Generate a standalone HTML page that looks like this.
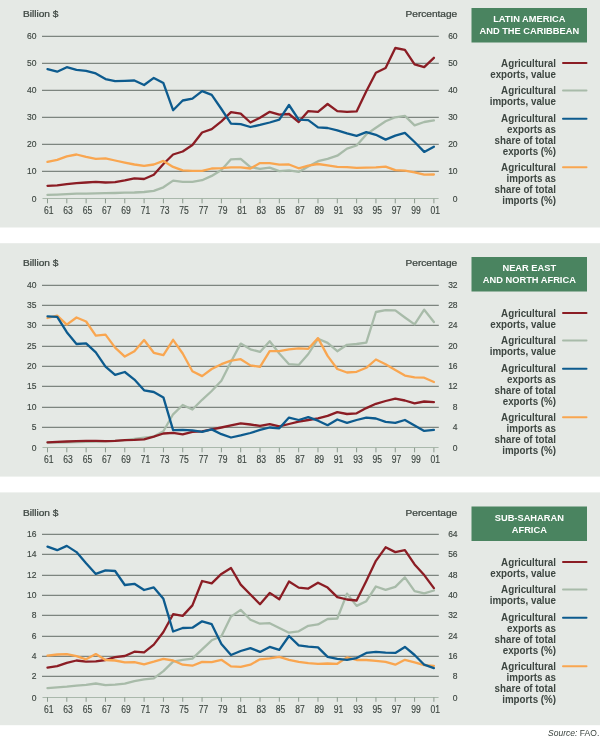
<!DOCTYPE html>
<html><head><meta charset="utf-8"><title>Agricultural trade by region</title>
<style>
html,body{margin:0;padding:0;background:#fff;}
body{width:600px;height:738px;overflow:hidden;}
svg{display:block;}
text{font-family:"Liberation Sans","DejaVu Sans",sans-serif;}
.ax{font-size:9.8px;fill:#3d4641;stroke:#3d4641;stroke-width:0.15px;}
.xl{font-size:10.1px;fill:#3d4641;stroke:#3d4641;stroke-width:0.15px;}
.lab{font-size:9.2px;fill:#3d4641;stroke:#3d4641;stroke-width:0.25px;}
.leg{font-size:10.2px;font-weight:bold;fill:#3d4641;}
.ttl{font-size:9.9px;font-weight:bold;fill:#fff;}
.src{font-size:9px;font-style:italic;fill:#3d4641;}
</style></head><body>
<svg width="600" height="738" viewBox="0 0 600 738">
<rect x="0" y="0" width="600" height="738" fill="#ffffff"/>

<rect x="0" y="0.0" width="600" height="227.5" fill="#e5e9e5"/>
<text class="lab" transform="translate(23.0,17.1) scale(1.100,1)">Billion $</text>
<text class="lab" transform="translate(457.2,17.1) scale(1.100,1)" text-anchor="end">Percentage</text>
<line x1="42" x2="438.8" y1="36.38" y2="36.38" stroke="#7d857f" stroke-width="1.25"/>
<text class="ax" transform="translate(36.4,38.7) scale(0.870,1)" text-anchor="end">60</text>
<text class="ax" transform="translate(457.6,38.7) scale(0.870,1)" text-anchor="end">60</text>
<line x1="42" x2="438.8" y1="63.38" y2="63.38" stroke="#7d857f" stroke-width="1.25"/>
<text class="ax" transform="translate(36.4,65.7) scale(0.870,1)" text-anchor="end">50</text>
<text class="ax" transform="translate(457.6,65.7) scale(0.870,1)" text-anchor="end">50</text>
<line x1="42" x2="438.8" y1="90.38" y2="90.38" stroke="#7d857f" stroke-width="1.25"/>
<text class="ax" transform="translate(36.4,92.7) scale(0.870,1)" text-anchor="end">40</text>
<text class="ax" transform="translate(457.6,92.7) scale(0.870,1)" text-anchor="end">40</text>
<line x1="42" x2="438.8" y1="117.38" y2="117.38" stroke="#7d857f" stroke-width="1.25"/>
<text class="ax" transform="translate(36.4,119.7) scale(0.870,1)" text-anchor="end">30</text>
<text class="ax" transform="translate(457.6,119.7) scale(0.870,1)" text-anchor="end">30</text>
<line x1="42" x2="438.8" y1="144.38" y2="144.38" stroke="#7d857f" stroke-width="1.25"/>
<text class="ax" transform="translate(36.4,146.7) scale(0.870,1)" text-anchor="end">20</text>
<text class="ax" transform="translate(457.6,146.7) scale(0.870,1)" text-anchor="end">20</text>
<line x1="42" x2="438.8" y1="171.38" y2="171.38" stroke="#7d857f" stroke-width="1.25"/>
<text class="ax" transform="translate(36.4,173.7) scale(0.870,1)" text-anchor="end">10</text>
<text class="ax" transform="translate(457.6,173.7) scale(0.870,1)" text-anchor="end">10</text>
<line x1="42.5" x2="438.6" y1="198.50" y2="198.50" stroke="#a9b8ab" stroke-width="1.2"/>
<text class="ax" transform="translate(36.4,202.3) scale(0.870,1)" text-anchor="end">0</text>
<text class="ax" transform="translate(457.6,202.3) scale(0.870,1)" text-anchor="end">0</text>
<line x1="47.50" x2="47.50" y1="198.80" y2="203.30" stroke="#8a998d" stroke-width="1"/>
<text class="xl" transform="translate(48.8,214.4) scale(0.850,1)" text-anchor="middle">61</text>
<line x1="66.82" x2="66.82" y1="198.80" y2="203.30" stroke="#8a998d" stroke-width="1"/>
<text class="xl" transform="translate(68.1,214.4) scale(0.850,1)" text-anchor="middle">63</text>
<line x1="86.14" x2="86.14" y1="198.80" y2="203.30" stroke="#8a998d" stroke-width="1"/>
<text class="xl" transform="translate(87.4,214.4) scale(0.850,1)" text-anchor="middle">65</text>
<line x1="105.46" x2="105.46" y1="198.80" y2="203.30" stroke="#8a998d" stroke-width="1"/>
<text class="xl" transform="translate(106.8,214.4) scale(0.850,1)" text-anchor="middle">67</text>
<line x1="124.78" x2="124.78" y1="198.80" y2="203.30" stroke="#8a998d" stroke-width="1"/>
<text class="xl" transform="translate(126.1,214.4) scale(0.850,1)" text-anchor="middle">69</text>
<line x1="144.10" x2="144.10" y1="198.80" y2="203.30" stroke="#8a998d" stroke-width="1"/>
<text class="xl" transform="translate(145.4,214.4) scale(0.850,1)" text-anchor="middle">71</text>
<line x1="163.42" x2="163.42" y1="198.80" y2="203.30" stroke="#8a998d" stroke-width="1"/>
<text class="xl" transform="translate(164.7,214.4) scale(0.850,1)" text-anchor="middle">73</text>
<line x1="182.74" x2="182.74" y1="198.80" y2="203.30" stroke="#8a998d" stroke-width="1"/>
<text class="xl" transform="translate(184.0,214.4) scale(0.850,1)" text-anchor="middle">75</text>
<line x1="202.06" x2="202.06" y1="198.80" y2="203.30" stroke="#8a998d" stroke-width="1"/>
<text class="xl" transform="translate(203.4,214.4) scale(0.850,1)" text-anchor="middle">77</text>
<line x1="221.38" x2="221.38" y1="198.80" y2="203.30" stroke="#8a998d" stroke-width="1"/>
<text class="xl" transform="translate(222.7,214.4) scale(0.850,1)" text-anchor="middle">79</text>
<line x1="240.70" x2="240.70" y1="198.80" y2="203.30" stroke="#8a998d" stroke-width="1"/>
<text class="xl" transform="translate(242.0,214.4) scale(0.850,1)" text-anchor="middle">81</text>
<line x1="260.02" x2="260.02" y1="198.80" y2="203.30" stroke="#8a998d" stroke-width="1"/>
<text class="xl" transform="translate(261.3,214.4) scale(0.850,1)" text-anchor="middle">83</text>
<line x1="279.34" x2="279.34" y1="198.80" y2="203.30" stroke="#8a998d" stroke-width="1"/>
<text class="xl" transform="translate(280.6,214.4) scale(0.850,1)" text-anchor="middle">85</text>
<line x1="298.66" x2="298.66" y1="198.80" y2="203.30" stroke="#8a998d" stroke-width="1"/>
<text class="xl" transform="translate(300.0,214.4) scale(0.850,1)" text-anchor="middle">87</text>
<line x1="317.98" x2="317.98" y1="198.80" y2="203.30" stroke="#8a998d" stroke-width="1"/>
<text class="xl" transform="translate(319.3,214.4) scale(0.850,1)" text-anchor="middle">89</text>
<line x1="337.30" x2="337.30" y1="198.80" y2="203.30" stroke="#8a998d" stroke-width="1"/>
<text class="xl" transform="translate(338.6,214.4) scale(0.850,1)" text-anchor="middle">91</text>
<line x1="356.62" x2="356.62" y1="198.80" y2="203.30" stroke="#8a998d" stroke-width="1"/>
<text class="xl" transform="translate(357.9,214.4) scale(0.850,1)" text-anchor="middle">93</text>
<line x1="375.94" x2="375.94" y1="198.80" y2="203.30" stroke="#8a998d" stroke-width="1"/>
<text class="xl" transform="translate(377.2,214.4) scale(0.850,1)" text-anchor="middle">95</text>
<line x1="395.26" x2="395.26" y1="198.80" y2="203.30" stroke="#8a998d" stroke-width="1"/>
<text class="xl" transform="translate(396.6,214.4) scale(0.850,1)" text-anchor="middle">97</text>
<line x1="414.58" x2="414.58" y1="198.80" y2="203.30" stroke="#8a998d" stroke-width="1"/>
<text class="xl" transform="translate(415.9,214.4) scale(0.850,1)" text-anchor="middle">99</text>
<line x1="433.90" x2="433.90" y1="198.80" y2="203.30" stroke="#8a998d" stroke-width="1"/>
<text class="xl" transform="translate(435.2,214.4) scale(0.850,1)" text-anchor="middle">01</text>
<polyline fill="none" stroke="#a8bba9" stroke-width="2.3" stroke-linejoin="round" stroke-linecap="round" points="47.5,194.9 57.2,194.6 66.8,194.1 76.5,193.7 86.1,193.7 95.8,193.4 105.5,193.2 115.1,193.0 124.8,192.7 134.4,192.5 144.1,192.0 153.8,190.8 163.4,187.3 173.1,180.6 182.7,181.8 192.4,181.8 202.1,180.2 211.7,175.9 221.4,170.0 231.0,159.3 240.7,158.8 250.4,167.1 260.0,168.8 269.7,167.6 279.3,171.1 289.0,170.4 298.7,171.9 308.3,166.4 318.0,161.2 327.6,158.8 337.3,155.7 347.0,148.6 356.6,145.5 366.3,134.4 375.9,127.7 385.6,121.3 395.3,117.3 404.9,115.9 414.6,125.4 424.2,122.0 433.9,120.4"/>
<polyline fill="none" stroke="#8b1d24" stroke-width="2.3" stroke-linejoin="round" stroke-linecap="round" points="47.5,185.8 57.2,185.4 66.8,184.2 76.5,183.2 86.1,182.5 95.8,181.8 105.5,182.5 115.1,182.1 124.8,180.4 134.4,178.3 144.1,179.0 153.8,174.7 163.4,164.0 173.1,154.5 182.7,151.5 192.4,145.0 202.1,132.5 211.7,129.2 221.4,121.3 231.0,112.1 240.7,113.7 250.4,122.5 260.0,117.8 269.7,111.8 279.3,114.7 289.0,114.0 298.7,122.0 308.3,111.1 318.0,111.8 327.6,104.0 337.3,111.1 347.0,111.8 356.6,111.4 366.3,91.2 375.9,72.7 385.6,68.0 395.3,48.0 404.9,49.9 414.6,64.4 424.2,67.2 433.9,57.8"/>
<polyline fill="none" stroke="#f9a650" stroke-width="2.3" stroke-linejoin="round" stroke-linecap="round" points="47.5,161.9 57.2,159.8 66.8,156.4 76.5,154.5 86.1,156.9 95.8,158.8 105.5,158.3 115.1,160.5 124.8,162.6 134.4,164.5 144.1,165.9 153.8,164.5 163.4,160.9 173.1,166.9 182.7,170.4 192.4,170.9 202.1,170.9 211.7,168.5 221.4,168.1 231.0,167.3 240.7,167.3 250.4,168.5 260.0,163.1 269.7,163.1 279.3,164.7 289.0,164.5 298.7,168.3 308.3,165.7 318.0,164.0 327.6,165.4 337.3,166.9 347.0,167.1 356.6,167.8 366.3,167.6 375.9,167.3 385.6,166.6 395.3,170.2 404.9,170.7 414.6,172.3 424.2,174.7 433.9,174.5"/>
<polyline fill="none" stroke="#0d5b8e" stroke-width="2.3" stroke-linejoin="round" stroke-linecap="round" points="47.5,69.1 57.2,71.7 66.8,67.2 76.5,69.9 86.1,70.8 95.8,73.4 105.5,79.1 115.1,81.2 124.8,80.8 134.4,80.5 144.1,85.0 153.8,77.9 163.4,83.1 173.1,110.2 182.7,100.5 192.4,98.6 202.1,91.2 211.7,94.8 221.4,109.0 231.0,123.7 240.7,124.2 250.4,127.0 260.0,124.9 269.7,122.5 279.3,119.7 289.0,105.0 298.7,119.7 308.3,120.1 318.0,127.3 327.6,128.0 337.3,130.3 347.0,133.4 356.6,135.8 366.3,132.2 375.9,134.8 385.6,139.6 395.3,135.6 404.9,132.9 414.6,142.0 424.2,151.9 433.9,146.7"/>
<rect x="471.5" y="8.0" width="115.5" height="34.5" fill="#4a8460"/>
<text class="ttl" transform="translate(529.3,22.2) scale(0.940,1)" text-anchor="middle">LATIN AMERICA</text>
<text class="ttl" transform="translate(529.3,34.4) scale(0.940,1)" text-anchor="middle">AND THE CARIBBEAN</text>
<line x1="563" x2="586.5" y1="63.0" y2="63.0" stroke="#8b1d24" stroke-width="2" stroke-linecap="round"/>
<text class="leg" transform="translate(556.0,66.6) scale(0.960,1)" text-anchor="end">Agricultural</text>
<text class="leg" transform="translate(556.0,77.6) scale(0.960,1)" text-anchor="end">exports, value</text>
<line x1="563" x2="586.5" y1="90.5" y2="90.5" stroke="#a8bba9" stroke-width="2" stroke-linecap="round"/>
<text class="leg" transform="translate(556.0,94.1) scale(0.960,1)" text-anchor="end">Agricultural</text>
<text class="leg" transform="translate(556.0,105.1) scale(0.960,1)" text-anchor="end">imports, value</text>
<line x1="563" x2="586.5" y1="118.7" y2="118.7" stroke="#0d5b8e" stroke-width="2" stroke-linecap="round"/>
<text class="leg" transform="translate(556.0,122.3) scale(0.960,1)" text-anchor="end">Agricultural</text>
<text class="leg" transform="translate(556.0,133.3) scale(0.960,1)" text-anchor="end">exports as</text>
<text class="leg" transform="translate(556.0,144.3) scale(0.960,1)" text-anchor="end">share of total</text>
<text class="leg" transform="translate(556.0,155.3) scale(0.960,1)" text-anchor="end">exports (%)</text>
<line x1="563" x2="586.5" y1="167.3" y2="167.3" stroke="#f9a650" stroke-width="2" stroke-linecap="round"/>
<text class="leg" transform="translate(556.0,170.9) scale(0.960,1)" text-anchor="end">Agricultural</text>
<text class="leg" transform="translate(556.0,181.9) scale(0.960,1)" text-anchor="end">imports as</text>
<text class="leg" transform="translate(556.0,192.9) scale(0.960,1)" text-anchor="end">share of total</text>
<text class="leg" transform="translate(556.0,203.9) scale(0.960,1)" text-anchor="end">imports (%)</text>
<rect x="0" y="243.2" width="600" height="233.4" fill="#e5e9e5"/>
<text class="lab" transform="translate(23.0,266.1) scale(1.100,1)">Billion $</text>
<text class="lab" transform="translate(457.2,266.1) scale(1.100,1)" text-anchor="end">Percentage</text>
<line x1="42" x2="438.8" y1="285.38" y2="285.38" stroke="#7d857f" stroke-width="1.25"/>
<text class="ax" transform="translate(36.4,287.7) scale(0.870,1)" text-anchor="end">40</text>
<text class="ax" transform="translate(457.6,287.7) scale(0.870,1)" text-anchor="end">32</text>
<line x1="42" x2="438.8" y1="305.38" y2="305.38" stroke="#7d857f" stroke-width="1.25"/>
<text class="ax" transform="translate(36.4,307.7) scale(0.870,1)" text-anchor="end">35</text>
<text class="ax" transform="translate(457.6,307.7) scale(0.870,1)" text-anchor="end">28</text>
<line x1="42" x2="438.8" y1="325.38" y2="325.38" stroke="#7d857f" stroke-width="1.25"/>
<text class="ax" transform="translate(36.4,327.7) scale(0.870,1)" text-anchor="end">30</text>
<text class="ax" transform="translate(457.6,327.7) scale(0.870,1)" text-anchor="end">24</text>
<line x1="42" x2="438.8" y1="346.38" y2="346.38" stroke="#7d857f" stroke-width="1.25"/>
<text class="ax" transform="translate(36.4,348.7) scale(0.870,1)" text-anchor="end">25</text>
<text class="ax" transform="translate(457.6,348.7) scale(0.870,1)" text-anchor="end">20</text>
<line x1="42" x2="438.8" y1="366.38" y2="366.38" stroke="#7d857f" stroke-width="1.25"/>
<text class="ax" transform="translate(36.4,368.7) scale(0.870,1)" text-anchor="end">20</text>
<text class="ax" transform="translate(457.6,368.7) scale(0.870,1)" text-anchor="end">16</text>
<line x1="42" x2="438.8" y1="386.38" y2="386.38" stroke="#7d857f" stroke-width="1.25"/>
<text class="ax" transform="translate(36.4,388.7) scale(0.870,1)" text-anchor="end">15</text>
<text class="ax" transform="translate(457.6,388.7) scale(0.870,1)" text-anchor="end">12</text>
<line x1="42" x2="438.8" y1="407.38" y2="407.38" stroke="#7d857f" stroke-width="1.25"/>
<text class="ax" transform="translate(36.4,409.7) scale(0.870,1)" text-anchor="end">10</text>
<text class="ax" transform="translate(457.6,409.7) scale(0.870,1)" text-anchor="end">8</text>
<line x1="42" x2="438.8" y1="427.38" y2="427.38" stroke="#7d857f" stroke-width="1.25"/>
<text class="ax" transform="translate(36.4,429.7) scale(0.870,1)" text-anchor="end">5</text>
<text class="ax" transform="translate(457.6,429.7) scale(0.870,1)" text-anchor="end">4</text>
<line x1="42.5" x2="438.6" y1="447.50" y2="447.50" stroke="#a9b8ab" stroke-width="1.2"/>
<text class="ax" transform="translate(36.4,451.3) scale(0.870,1)" text-anchor="end">0</text>
<text class="ax" transform="translate(457.6,451.3) scale(0.870,1)" text-anchor="end">0</text>
<line x1="47.50" x2="47.50" y1="447.80" y2="452.30" stroke="#8a998d" stroke-width="1"/>
<text class="xl" transform="translate(48.8,463.4) scale(0.850,1)" text-anchor="middle">61</text>
<line x1="66.82" x2="66.82" y1="447.80" y2="452.30" stroke="#8a998d" stroke-width="1"/>
<text class="xl" transform="translate(68.1,463.4) scale(0.850,1)" text-anchor="middle">63</text>
<line x1="86.14" x2="86.14" y1="447.80" y2="452.30" stroke="#8a998d" stroke-width="1"/>
<text class="xl" transform="translate(87.4,463.4) scale(0.850,1)" text-anchor="middle">65</text>
<line x1="105.46" x2="105.46" y1="447.80" y2="452.30" stroke="#8a998d" stroke-width="1"/>
<text class="xl" transform="translate(106.8,463.4) scale(0.850,1)" text-anchor="middle">67</text>
<line x1="124.78" x2="124.78" y1="447.80" y2="452.30" stroke="#8a998d" stroke-width="1"/>
<text class="xl" transform="translate(126.1,463.4) scale(0.850,1)" text-anchor="middle">69</text>
<line x1="144.10" x2="144.10" y1="447.80" y2="452.30" stroke="#8a998d" stroke-width="1"/>
<text class="xl" transform="translate(145.4,463.4) scale(0.850,1)" text-anchor="middle">71</text>
<line x1="163.42" x2="163.42" y1="447.80" y2="452.30" stroke="#8a998d" stroke-width="1"/>
<text class="xl" transform="translate(164.7,463.4) scale(0.850,1)" text-anchor="middle">73</text>
<line x1="182.74" x2="182.74" y1="447.80" y2="452.30" stroke="#8a998d" stroke-width="1"/>
<text class="xl" transform="translate(184.0,463.4) scale(0.850,1)" text-anchor="middle">75</text>
<line x1="202.06" x2="202.06" y1="447.80" y2="452.30" stroke="#8a998d" stroke-width="1"/>
<text class="xl" transform="translate(203.4,463.4) scale(0.850,1)" text-anchor="middle">77</text>
<line x1="221.38" x2="221.38" y1="447.80" y2="452.30" stroke="#8a998d" stroke-width="1"/>
<text class="xl" transform="translate(222.7,463.4) scale(0.850,1)" text-anchor="middle">79</text>
<line x1="240.70" x2="240.70" y1="447.80" y2="452.30" stroke="#8a998d" stroke-width="1"/>
<text class="xl" transform="translate(242.0,463.4) scale(0.850,1)" text-anchor="middle">81</text>
<line x1="260.02" x2="260.02" y1="447.80" y2="452.30" stroke="#8a998d" stroke-width="1"/>
<text class="xl" transform="translate(261.3,463.4) scale(0.850,1)" text-anchor="middle">83</text>
<line x1="279.34" x2="279.34" y1="447.80" y2="452.30" stroke="#8a998d" stroke-width="1"/>
<text class="xl" transform="translate(280.6,463.4) scale(0.850,1)" text-anchor="middle">85</text>
<line x1="298.66" x2="298.66" y1="447.80" y2="452.30" stroke="#8a998d" stroke-width="1"/>
<text class="xl" transform="translate(300.0,463.4) scale(0.850,1)" text-anchor="middle">87</text>
<line x1="317.98" x2="317.98" y1="447.80" y2="452.30" stroke="#8a998d" stroke-width="1"/>
<text class="xl" transform="translate(319.3,463.4) scale(0.850,1)" text-anchor="middle">89</text>
<line x1="337.30" x2="337.30" y1="447.80" y2="452.30" stroke="#8a998d" stroke-width="1"/>
<text class="xl" transform="translate(338.6,463.4) scale(0.850,1)" text-anchor="middle">91</text>
<line x1="356.62" x2="356.62" y1="447.80" y2="452.30" stroke="#8a998d" stroke-width="1"/>
<text class="xl" transform="translate(357.9,463.4) scale(0.850,1)" text-anchor="middle">93</text>
<line x1="375.94" x2="375.94" y1="447.80" y2="452.30" stroke="#8a998d" stroke-width="1"/>
<text class="xl" transform="translate(377.2,463.4) scale(0.850,1)" text-anchor="middle">95</text>
<line x1="395.26" x2="395.26" y1="447.80" y2="452.30" stroke="#8a998d" stroke-width="1"/>
<text class="xl" transform="translate(396.6,463.4) scale(0.850,1)" text-anchor="middle">97</text>
<line x1="414.58" x2="414.58" y1="447.80" y2="452.30" stroke="#8a998d" stroke-width="1"/>
<text class="xl" transform="translate(415.9,463.4) scale(0.850,1)" text-anchor="middle">99</text>
<line x1="433.90" x2="433.90" y1="447.80" y2="452.30" stroke="#8a998d" stroke-width="1"/>
<text class="xl" transform="translate(435.2,463.4) scale(0.850,1)" text-anchor="middle">01</text>
<polyline fill="none" stroke="#a8bba9" stroke-width="2.3" stroke-linejoin="round" stroke-linecap="round" points="47.5,442.7 57.2,442.5 66.8,442.3 76.5,442.0 86.1,441.8 95.8,441.5 105.5,441.3 115.1,440.8 124.8,440.1 134.4,438.9 144.1,437.7 153.8,436.6 163.4,431.3 173.1,414.3 182.7,405.0 192.4,409.5 202.1,399.8 211.7,391.0 221.4,380.8 231.0,361.8 240.7,343.6 250.4,349.3 260.0,351.9 269.7,341.2 279.3,353.5 289.0,364.2 298.7,364.9 308.3,354.0 318.0,338.8 327.6,342.9 337.3,351.2 347.0,344.8 356.6,344.0 366.3,342.6 375.9,312.0 385.6,310.1 395.3,310.4 404.9,317.5 414.6,324.4 424.2,309.7 433.9,322.0"/>
<polyline fill="none" stroke="#8b1d24" stroke-width="2.3" stroke-linejoin="round" stroke-linecap="round" points="47.5,442.3 57.2,441.8 66.8,441.5 76.5,441.1 86.1,440.8 95.8,440.8 105.5,441.1 115.1,440.8 124.8,440.1 134.4,439.9 144.1,439.4 153.8,436.6 163.4,433.5 173.1,432.8 182.7,434.4 192.4,431.8 202.1,431.3 211.7,429.4 221.4,427.5 231.0,425.4 240.7,423.3 250.4,424.5 260.0,425.9 269.7,424.2 279.3,426.4 289.0,424.0 298.7,421.6 308.3,420.0 318.0,418.3 327.6,415.9 337.3,412.1 347.0,414.0 356.6,413.3 366.3,408.1 375.9,403.8 385.6,401.0 395.3,398.6 404.9,400.5 414.6,403.3 424.2,401.5 433.9,402.2"/>
<polyline fill="none" stroke="#f9a650" stroke-width="2.3" stroke-linejoin="round" stroke-linecap="round" points="47.5,318.0 57.2,315.6 66.8,324.6 76.5,317.5 86.1,321.5 95.8,335.7 105.5,334.6 115.1,347.6 124.8,356.6 134.4,351.2 144.1,340.0 153.8,352.8 163.4,355.2 173.1,339.8 182.7,353.5 192.4,371.3 202.1,376.1 211.7,369.0 221.4,364.2 231.0,360.7 240.7,359.2 250.4,365.4 260.0,366.8 269.7,351.2 279.3,351.2 289.0,349.3 298.7,348.3 308.3,348.8 318.0,338.1 327.6,355.9 337.3,369.0 347.0,372.5 356.6,371.8 366.3,367.8 375.9,359.5 385.6,364.2 395.3,370.1 404.9,375.6 414.6,377.3 424.2,377.7 433.9,382.0"/>
<polyline fill="none" stroke="#0d5b8e" stroke-width="2.3" stroke-linejoin="round" stroke-linecap="round" points="47.5,316.3 57.2,316.8 66.8,332.2 76.5,344.0 86.1,343.3 95.8,352.3 105.5,366.6 115.1,374.9 124.8,372.0 134.4,379.6 144.1,390.3 153.8,392.0 163.4,397.4 173.1,430.2 182.7,429.9 192.4,430.4 202.1,431.8 211.7,429.4 221.4,434.2 231.0,437.5 240.7,435.4 250.4,433.0 260.0,429.9 269.7,427.5 279.3,428.3 289.0,417.6 298.7,420.0 308.3,417.1 318.0,420.7 327.6,425.2 337.3,419.5 347.0,422.8 356.6,420.0 366.3,417.6 375.9,418.5 385.6,421.9 395.3,422.8 404.9,420.0 414.6,425.6 424.2,430.9 433.9,429.9"/>
<rect x="471.5" y="257.0" width="115.5" height="34.5" fill="#4a8460"/>
<text class="ttl" transform="translate(529.3,271.2) scale(0.940,1)" text-anchor="middle">NEAR EAST</text>
<text class="ttl" transform="translate(529.3,283.4) scale(0.940,1)" text-anchor="middle">AND NORTH AFRICA</text>
<line x1="563" x2="586.5" y1="313.0" y2="313.0" stroke="#8b1d24" stroke-width="2" stroke-linecap="round"/>
<text class="leg" transform="translate(556.0,316.6) scale(0.960,1)" text-anchor="end">Agricultural</text>
<text class="leg" transform="translate(556.0,327.6) scale(0.960,1)" text-anchor="end">exports, value</text>
<line x1="563" x2="586.5" y1="340.5" y2="340.5" stroke="#a8bba9" stroke-width="2" stroke-linecap="round"/>
<text class="leg" transform="translate(556.0,344.1) scale(0.960,1)" text-anchor="end">Agricultural</text>
<text class="leg" transform="translate(556.0,355.1) scale(0.960,1)" text-anchor="end">imports, value</text>
<line x1="563" x2="586.5" y1="368.7" y2="368.7" stroke="#0d5b8e" stroke-width="2" stroke-linecap="round"/>
<text class="leg" transform="translate(556.0,372.3) scale(0.960,1)" text-anchor="end">Agricultural</text>
<text class="leg" transform="translate(556.0,383.3) scale(0.960,1)" text-anchor="end">exports as</text>
<text class="leg" transform="translate(556.0,394.3) scale(0.960,1)" text-anchor="end">share of total</text>
<text class="leg" transform="translate(556.0,405.3) scale(0.960,1)" text-anchor="end">exports (%)</text>
<line x1="563" x2="586.5" y1="417.3" y2="417.3" stroke="#f9a650" stroke-width="2" stroke-linecap="round"/>
<text class="leg" transform="translate(556.0,420.9) scale(0.960,1)" text-anchor="end">Agricultural</text>
<text class="leg" transform="translate(556.0,431.9) scale(0.960,1)" text-anchor="end">imports as</text>
<text class="leg" transform="translate(556.0,442.9) scale(0.960,1)" text-anchor="end">share of total</text>
<text class="leg" transform="translate(556.0,453.9) scale(0.960,1)" text-anchor="end">imports (%)</text>
<rect x="0" y="492.4" width="600" height="232.8" fill="#e5e9e5"/>
<text class="lab" transform="translate(23.0,515.6) scale(1.100,1)">Billion $</text>
<text class="lab" transform="translate(457.2,515.6) scale(1.100,1)" text-anchor="end">Percentage</text>
<line x1="42" x2="438.8" y1="534.38" y2="534.38" stroke="#7d857f" stroke-width="1.25"/>
<text class="ax" transform="translate(36.4,536.7) scale(0.870,1)" text-anchor="end">16</text>
<text class="ax" transform="translate(457.6,536.7) scale(0.870,1)" text-anchor="end">64</text>
<line x1="42" x2="438.8" y1="554.38" y2="554.38" stroke="#7d857f" stroke-width="1.25"/>
<text class="ax" transform="translate(36.4,556.7) scale(0.870,1)" text-anchor="end">14</text>
<text class="ax" transform="translate(457.6,556.7) scale(0.870,1)" text-anchor="end">56</text>
<line x1="42" x2="438.8" y1="575.38" y2="575.38" stroke="#7d857f" stroke-width="1.25"/>
<text class="ax" transform="translate(36.4,577.7) scale(0.870,1)" text-anchor="end">12</text>
<text class="ax" transform="translate(457.6,577.7) scale(0.870,1)" text-anchor="end">48</text>
<line x1="42" x2="438.8" y1="595.38" y2="595.38" stroke="#7d857f" stroke-width="1.25"/>
<text class="ax" transform="translate(36.4,597.7) scale(0.870,1)" text-anchor="end">10</text>
<text class="ax" transform="translate(457.6,597.7) scale(0.870,1)" text-anchor="end">40</text>
<line x1="42" x2="438.8" y1="615.38" y2="615.38" stroke="#7d857f" stroke-width="1.25"/>
<text class="ax" transform="translate(36.4,617.7) scale(0.870,1)" text-anchor="end">8</text>
<text class="ax" transform="translate(457.6,617.7) scale(0.870,1)" text-anchor="end">32</text>
<line x1="42" x2="438.8" y1="636.38" y2="636.38" stroke="#7d857f" stroke-width="1.25"/>
<text class="ax" transform="translate(36.4,638.7) scale(0.870,1)" text-anchor="end">6</text>
<text class="ax" transform="translate(457.6,638.7) scale(0.870,1)" text-anchor="end">24</text>
<line x1="42" x2="438.8" y1="656.38" y2="656.38" stroke="#7d857f" stroke-width="1.25"/>
<text class="ax" transform="translate(36.4,658.7) scale(0.870,1)" text-anchor="end">4</text>
<text class="ax" transform="translate(457.6,658.7) scale(0.870,1)" text-anchor="end">16</text>
<line x1="42" x2="438.8" y1="676.38" y2="676.38" stroke="#7d857f" stroke-width="1.25"/>
<text class="ax" transform="translate(36.4,678.7) scale(0.870,1)" text-anchor="end">2</text>
<text class="ax" transform="translate(457.6,678.7) scale(0.870,1)" text-anchor="end">8</text>
<line x1="42.5" x2="438.6" y1="697.50" y2="697.50" stroke="#a9b8ab" stroke-width="1.2"/>
<text class="ax" transform="translate(36.4,701.3) scale(0.870,1)" text-anchor="end">0</text>
<text class="ax" transform="translate(457.6,701.3) scale(0.870,1)" text-anchor="end">0</text>
<line x1="47.50" x2="47.50" y1="697.30" y2="701.80" stroke="#8a998d" stroke-width="1"/>
<text class="xl" transform="translate(48.8,712.9) scale(0.850,1)" text-anchor="middle">61</text>
<line x1="66.82" x2="66.82" y1="697.30" y2="701.80" stroke="#8a998d" stroke-width="1"/>
<text class="xl" transform="translate(68.1,712.9) scale(0.850,1)" text-anchor="middle">63</text>
<line x1="86.14" x2="86.14" y1="697.30" y2="701.80" stroke="#8a998d" stroke-width="1"/>
<text class="xl" transform="translate(87.4,712.9) scale(0.850,1)" text-anchor="middle">65</text>
<line x1="105.46" x2="105.46" y1="697.30" y2="701.80" stroke="#8a998d" stroke-width="1"/>
<text class="xl" transform="translate(106.8,712.9) scale(0.850,1)" text-anchor="middle">67</text>
<line x1="124.78" x2="124.78" y1="697.30" y2="701.80" stroke="#8a998d" stroke-width="1"/>
<text class="xl" transform="translate(126.1,712.9) scale(0.850,1)" text-anchor="middle">69</text>
<line x1="144.10" x2="144.10" y1="697.30" y2="701.80" stroke="#8a998d" stroke-width="1"/>
<text class="xl" transform="translate(145.4,712.9) scale(0.850,1)" text-anchor="middle">71</text>
<line x1="163.42" x2="163.42" y1="697.30" y2="701.80" stroke="#8a998d" stroke-width="1"/>
<text class="xl" transform="translate(164.7,712.9) scale(0.850,1)" text-anchor="middle">73</text>
<line x1="182.74" x2="182.74" y1="697.30" y2="701.80" stroke="#8a998d" stroke-width="1"/>
<text class="xl" transform="translate(184.0,712.9) scale(0.850,1)" text-anchor="middle">75</text>
<line x1="202.06" x2="202.06" y1="697.30" y2="701.80" stroke="#8a998d" stroke-width="1"/>
<text class="xl" transform="translate(203.4,712.9) scale(0.850,1)" text-anchor="middle">77</text>
<line x1="221.38" x2="221.38" y1="697.30" y2="701.80" stroke="#8a998d" stroke-width="1"/>
<text class="xl" transform="translate(222.7,712.9) scale(0.850,1)" text-anchor="middle">79</text>
<line x1="240.70" x2="240.70" y1="697.30" y2="701.80" stroke="#8a998d" stroke-width="1"/>
<text class="xl" transform="translate(242.0,712.9) scale(0.850,1)" text-anchor="middle">81</text>
<line x1="260.02" x2="260.02" y1="697.30" y2="701.80" stroke="#8a998d" stroke-width="1"/>
<text class="xl" transform="translate(261.3,712.9) scale(0.850,1)" text-anchor="middle">83</text>
<line x1="279.34" x2="279.34" y1="697.30" y2="701.80" stroke="#8a998d" stroke-width="1"/>
<text class="xl" transform="translate(280.6,712.9) scale(0.850,1)" text-anchor="middle">85</text>
<line x1="298.66" x2="298.66" y1="697.30" y2="701.80" stroke="#8a998d" stroke-width="1"/>
<text class="xl" transform="translate(300.0,712.9) scale(0.850,1)" text-anchor="middle">87</text>
<line x1="317.98" x2="317.98" y1="697.30" y2="701.80" stroke="#8a998d" stroke-width="1"/>
<text class="xl" transform="translate(319.3,712.9) scale(0.850,1)" text-anchor="middle">89</text>
<line x1="337.30" x2="337.30" y1="697.30" y2="701.80" stroke="#8a998d" stroke-width="1"/>
<text class="xl" transform="translate(338.6,712.9) scale(0.850,1)" text-anchor="middle">91</text>
<line x1="356.62" x2="356.62" y1="697.30" y2="701.80" stroke="#8a998d" stroke-width="1"/>
<text class="xl" transform="translate(357.9,712.9) scale(0.850,1)" text-anchor="middle">93</text>
<line x1="375.94" x2="375.94" y1="697.30" y2="701.80" stroke="#8a998d" stroke-width="1"/>
<text class="xl" transform="translate(377.2,712.9) scale(0.850,1)" text-anchor="middle">95</text>
<line x1="395.26" x2="395.26" y1="697.30" y2="701.80" stroke="#8a998d" stroke-width="1"/>
<text class="xl" transform="translate(396.6,712.9) scale(0.850,1)" text-anchor="middle">97</text>
<line x1="414.58" x2="414.58" y1="697.30" y2="701.80" stroke="#8a998d" stroke-width="1"/>
<text class="xl" transform="translate(415.9,712.9) scale(0.850,1)" text-anchor="middle">99</text>
<line x1="433.90" x2="433.90" y1="697.30" y2="701.80" stroke="#8a998d" stroke-width="1"/>
<text class="xl" transform="translate(435.2,712.9) scale(0.850,1)" text-anchor="middle">01</text>
<polyline fill="none" stroke="#a8bba9" stroke-width="2.3" stroke-linejoin="round" stroke-linecap="round" points="47.5,688.2 57.2,687.3 66.8,686.6 76.5,685.6 86.1,684.9 95.8,683.5 105.5,685.1 115.1,684.7 124.8,683.7 134.4,681.1 144.1,679.4 153.8,678.3 163.4,671.1 173.1,661.7 182.7,659.8 192.4,658.6 202.1,649.3 211.7,640.3 221.4,636.3 231.0,616.6 240.7,609.9 250.4,619.7 260.0,623.7 269.7,623.2 279.3,628.0 289.0,632.7 298.7,631.3 308.3,625.8 318.0,624.4 327.6,619.0 337.3,618.5 347.0,593.6 356.6,605.9 366.3,601.2 375.9,586.5 385.6,589.8 395.3,586.9 404.9,577.4 414.6,591.2 424.2,593.3 433.9,590.5"/>
<polyline fill="none" stroke="#8b1d24" stroke-width="2.3" stroke-linejoin="round" stroke-linecap="round" points="47.5,667.6 57.2,666.2 66.8,662.8 76.5,660.5 86.1,661.7 95.8,661.4 105.5,660.0 115.1,657.1 124.8,656.0 134.4,651.7 144.1,652.4 153.8,644.6 163.4,632.0 173.1,614.2 182.7,615.9 192.4,605.4 202.1,581.0 211.7,583.4 221.4,573.9 231.0,568.0 240.7,584.6 250.4,594.5 260.0,604.2 269.7,592.9 279.3,599.3 289.0,581.5 298.7,587.6 308.3,588.6 318.0,582.7 327.6,587.6 337.3,597.1 347.0,599.5 356.6,600.5 366.3,581.0 375.9,560.8 385.6,547.3 395.3,552.1 404.9,550.2 414.6,564.4 424.2,575.1 433.9,588.1"/>
<polyline fill="none" stroke="#f9a650" stroke-width="2.3" stroke-linejoin="round" stroke-linecap="round" points="47.5,655.7 57.2,654.5 66.8,654.1 76.5,656.2 86.1,659.3 95.8,654.1 105.5,660.0 115.1,660.5 124.8,662.4 134.4,662.1 144.1,664.3 153.8,661.7 163.4,658.8 173.1,660.5 182.7,664.7 192.4,665.7 202.1,661.9 211.7,662.1 221.4,659.8 231.0,666.4 240.7,666.9 250.4,664.7 260.0,659.3 269.7,658.3 279.3,656.9 289.0,659.8 298.7,661.9 308.3,663.1 318.0,663.8 327.6,663.5 337.3,663.8 347.0,657.4 356.6,660.0 366.3,660.0 375.9,660.9 385.6,661.9 395.3,664.7 404.9,659.8 414.6,662.4 424.2,665.2 433.9,665.9"/>
<polyline fill="none" stroke="#0d5b8e" stroke-width="2.3" stroke-linejoin="round" stroke-linecap="round" points="47.5,546.6 57.2,550.2 66.8,545.9 76.5,552.1 86.1,563.2 95.8,573.9 105.5,570.3 115.1,571.0 124.8,585.0 134.4,583.8 144.1,590.0 153.8,587.4 163.4,598.8 173.1,631.5 182.7,628.0 192.4,627.7 202.1,621.3 211.7,624.2 221.4,643.9 231.0,655.0 240.7,651.0 250.4,648.1 260.0,651.9 269.7,646.9 279.3,649.8 289.0,636.0 298.7,645.3 308.3,646.7 318.0,647.4 327.6,656.9 337.3,658.8 347.0,659.8 356.6,658.1 366.3,652.9 375.9,651.9 385.6,652.6 395.3,652.9 404.9,646.9 414.6,655.0 424.2,664.7 433.9,668.1"/>
<rect x="471.5" y="506.5" width="115.5" height="34.5" fill="#4a8460"/>
<text class="ttl" transform="translate(529.3,520.7) scale(0.940,1)" text-anchor="middle">SUB-SAHARAN</text>
<text class="ttl" transform="translate(529.3,532.9) scale(0.940,1)" text-anchor="middle">AFRICA</text>
<line x1="563" x2="586.5" y1="562.0" y2="562.0" stroke="#8b1d24" stroke-width="2" stroke-linecap="round"/>
<text class="leg" transform="translate(556.0,565.6) scale(0.960,1)" text-anchor="end">Agricultural</text>
<text class="leg" transform="translate(556.0,576.6) scale(0.960,1)" text-anchor="end">exports, value</text>
<line x1="563" x2="586.5" y1="589.5" y2="589.5" stroke="#a8bba9" stroke-width="2" stroke-linecap="round"/>
<text class="leg" transform="translate(556.0,593.1) scale(0.960,1)" text-anchor="end">Agricultural</text>
<text class="leg" transform="translate(556.0,604.1) scale(0.960,1)" text-anchor="end">imports, value</text>
<line x1="563" x2="586.5" y1="617.7" y2="617.7" stroke="#0d5b8e" stroke-width="2" stroke-linecap="round"/>
<text class="leg" transform="translate(556.0,621.3) scale(0.960,1)" text-anchor="end">Agricultural</text>
<text class="leg" transform="translate(556.0,632.3) scale(0.960,1)" text-anchor="end">exports as</text>
<text class="leg" transform="translate(556.0,643.3) scale(0.960,1)" text-anchor="end">share of total</text>
<text class="leg" transform="translate(556.0,654.3) scale(0.960,1)" text-anchor="end">exports (%)</text>
<line x1="563" x2="586.5" y1="666.3" y2="666.3" stroke="#f9a650" stroke-width="2" stroke-linecap="round"/>
<text class="leg" transform="translate(556.0,669.9) scale(0.960,1)" text-anchor="end">Agricultural</text>
<text class="leg" transform="translate(556.0,680.9) scale(0.960,1)" text-anchor="end">imports as</text>
<text class="leg" transform="translate(556.0,691.9) scale(0.960,1)" text-anchor="end">share of total</text>
<text class="leg" transform="translate(556.0,702.9) scale(0.960,1)" text-anchor="end">imports (%)</text>
<text class="src" transform="translate(599.3,736.3) scale(0.950,1)" text-anchor="end">Source: <tspan font-style="normal">FAO.</tspan></text>
</svg></body></html>
